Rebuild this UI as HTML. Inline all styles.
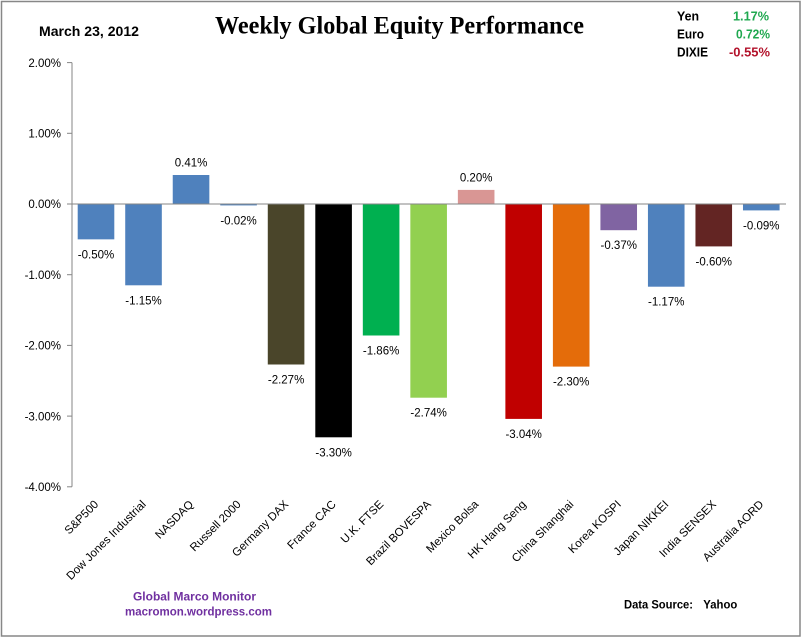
<!DOCTYPE html>
<html>
<head>
<meta charset="utf-8">
<style>
  html, body { margin: 0; padding: 0; background: #fff; }
  svg { display: block; }
  text { font-family: "Liberation Sans", sans-serif; }
</style>
</head>
<body>
<svg width="802" height="638" viewBox="0 0 802 638" xmlns="http://www.w3.org/2000/svg">
  <rect x="0" y="0" width="802" height="638" fill="#fff"/>
  <rect x="1.5" y="1.5" width="798.5" height="634.5" fill="none" stroke="#878787" stroke-width="1.5"/>

  <!-- Header -->
  <text x="39" y="36" font-size="14" font-weight="bold" textLength="100" lengthAdjust="spacingAndGlyphs">March 23, 2012</text>
  <text x="215" y="33.5" font-family="Liberation Serif, serif" style="font-family:'Liberation Serif',serif" font-size="25" font-weight="bold" textLength="369" lengthAdjust="spacingAndGlyphs">Weekly Global Equity Performance</text>

  <text x="677" y="20.5" font-size="13" font-weight="bold" textLength="22" lengthAdjust="spacingAndGlyphs">Yen</text>
  <text x="677" y="38.5" font-size="13" font-weight="bold" textLength="27" lengthAdjust="spacingAndGlyphs">Euro</text>
  <text x="677" y="56.5" font-size="13" font-weight="bold" textLength="31" lengthAdjust="spacingAndGlyphs">DIXIE</text>
  <text x="733" y="20.5" font-size="13" font-weight="bold" fill="#1fa84f" textLength="36" lengthAdjust="spacingAndGlyphs">1.17%</text>
  <text x="736" y="38.5" font-size="13" font-weight="bold" fill="#1fa84f" textLength="34" lengthAdjust="spacingAndGlyphs">0.72%</text>
  <text x="729" y="56.5" font-size="13" font-weight="bold" fill="#b3122b" textLength="41" lengthAdjust="spacingAndGlyphs">-0.55%</text>

  <!-- Y axis -->
  <g stroke="#868686" stroke-width="1">
    <line x1="72" y1="62.6" x2="72" y2="486.8"/>
    <line x1="67" y1="62.6" x2="72" y2="62.6"/>
    <line x1="67" y1="133.3" x2="72" y2="133.3"/>
    <line x1="67" y1="204" x2="72" y2="204"/>
    <line x1="67" y1="274.7" x2="72" y2="274.7"/>
    <line x1="67" y1="345.4" x2="72" y2="345.4"/>
    <line x1="67" y1="416.1" x2="72" y2="416.1"/>
    <line x1="67" y1="486.8" x2="72" y2="486.8"/>
  </g>
  <g font-size="11.5" text-anchor="end" fill="#000">
    <text x="61" y="66.8">2.00%</text>
    <text x="61" y="137.5">1.00%</text>
    <text x="61" y="208.2">0.00%</text>
    <text x="61" y="278.9">-1.00%</text>
    <text x="61" y="349.6">-2.00%</text>
    <text x="61" y="420.3">-3.00%</text>
    <text x="61" y="491">-4.00%</text>
  </g>

  <!-- Bars -->
  <rect x="77.7" y="204" width="36.6" height="35.35" fill="#4f81bd"/>
  <rect x="125.22" y="204" width="36.6" height="81.3" fill="#4f81bd"/>
  <rect x="172.74" y="175" width="36.6" height="29" fill="#4f81bd"/>
  <rect x="220.26" y="204" width="36.6" height="1.41" fill="#4f81bd"/>
  <rect x="267.78" y="204" width="36.6" height="160.5" fill="#4a452a"/>
  <rect x="315.3" y="204" width="36.6" height="233.3" fill="#000000"/>
  <rect x="362.82" y="204" width="36.6" height="131.5" fill="#00b050"/>
  <rect x="410.34" y="204" width="36.6" height="193.7" fill="#92d050"/>
  <rect x="457.86" y="189.9" width="36.6" height="14.1" fill="#d99694"/>
  <rect x="505.38" y="204" width="36.6" height="214.9" fill="#c00000"/>
  <rect x="552.9" y="204" width="36.6" height="162.6" fill="#e46c0a"/>
  <rect x="600.42" y="204" width="36.6" height="26.2" fill="#8064a2"/>
  <rect x="647.94" y="204" width="36.6" height="82.7" fill="#4f81bd"/>
  <rect x="695.46" y="204" width="36.6" height="42.4" fill="#632523"/>
  <rect x="742.98" y="204" width="36.6" height="6.4" fill="#4f81bd"/>

  <!-- Zero line -->
  <line x1="72" y1="204" x2="786" y2="204" stroke="#868686" stroke-width="1"/>

  <!-- Data labels -->
  <g font-size="11.5" text-anchor="middle" fill="#000">
    <text x="96" y="258.4">-0.50%</text>
    <text x="143.52" y="304.3">-1.15%</text>
    <text x="191.04" y="166.5">0.41%</text>
    <text x="238.56" y="224.4">-0.02%</text>
    <text x="286.08" y="383.5">-2.27%</text>
    <text x="333.6" y="456.3">-3.30%</text>
    <text x="381.12" y="354.5">-1.86%</text>
    <text x="428.64" y="416.7">-2.74%</text>
    <text x="476.16" y="181.4">0.20%</text>
    <text x="523.68" y="437.9">-3.04%</text>
    <text x="571.2" y="385.6">-2.30%</text>
    <text x="618.72" y="249.2">-0.37%</text>
    <text x="666.24" y="305.7">-1.17%</text>
    <text x="713.76" y="265.4">-0.60%</text>
    <text x="761.28" y="229.4">-0.09%</text>
  </g>

  <!-- Category labels -->
  <g font-size="11.5" text-anchor="end" fill="#000">
    <text transform="translate(99,505) rotate(-45)">S&amp;P500</text>
    <text transform="translate(146.52,505) rotate(-45)">Dow Jones Industrial</text>
    <text transform="translate(194.04,505) rotate(-45)">NASDAQ</text>
    <text transform="translate(241.56,505) rotate(-45)">Russell 2000</text>
    <text transform="translate(289.08,505) rotate(-45)">Germany DAX</text>
    <text transform="translate(336.6,505) rotate(-45)">France CAC</text>
    <text transform="translate(384.12,505) rotate(-45)">U.K. FTSE</text>
    <text transform="translate(431.64,505) rotate(-45)">Brazil BOVESPA</text>
    <text transform="translate(479.16,505) rotate(-45)">Mexico Bolsa</text>
    <text transform="translate(526.68,505) rotate(-45)">HK Hang Seng</text>
    <text transform="translate(574.2,505) rotate(-45)">China Shanghai</text>
    <text transform="translate(621.72,505) rotate(-45)">Korea KOSPI</text>
    <text transform="translate(669.24,505) rotate(-45)">Japan NIKKEI</text>
    <text transform="translate(716.76,505) rotate(-45)">India SENSEX</text>
    <text transform="translate(764.28,505) rotate(-45)">Australia AORD</text>
  </g>

  <!-- Footer -->
  <text x="133" y="600.7" font-size="12" font-weight="bold" fill="#7030a0" textLength="123" lengthAdjust="spacingAndGlyphs">Global  Marco  Monitor</text>
  <text x="125" y="615.3" font-size="12" font-weight="bold" fill="#7030a0" textLength="147" lengthAdjust="spacingAndGlyphs">macromon.wordpress.com</text>
  <text x="624" y="608.3" font-size="12" font-weight="bold" fill="#000" textLength="69" lengthAdjust="spacingAndGlyphs">Data Source:</text>
  <text x="703.3" y="608.3" font-size="12" font-weight="bold" fill="#000" textLength="34" lengthAdjust="spacingAndGlyphs">Yahoo</text>
</svg>
</body>
</html>
